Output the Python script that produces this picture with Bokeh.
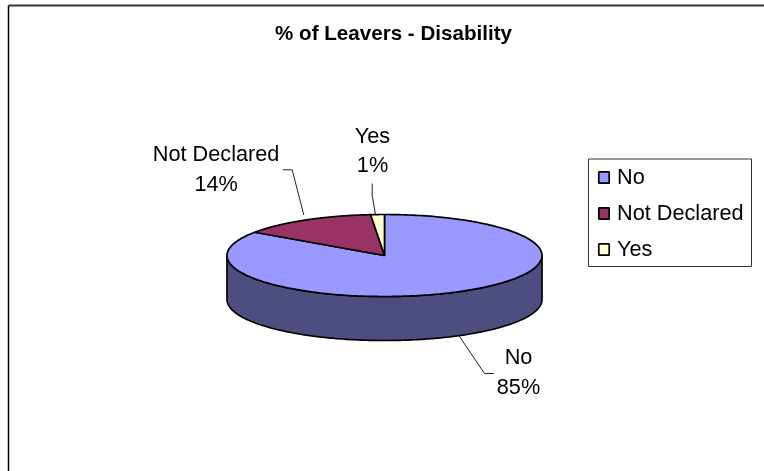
import numpy as np
from bokeh.plotting import figure
from bokeh.models import Legend, LegendItem, Range1d
from bokeh.core.properties import value
from bokeh.embed import file_html
from bokeh.resources import INLINE

categories = ["No", "Not Declared", "Yes"]
shares = [84.6, 14.0, 1.4]
colors = ["#9999FF", "#993366", "#FFFFCC"]
wall_color = "#4D4D80"
title = "% of Leavers - Disability"
FONT = value("Liberation Sans")

W, H = 764, 471
cx, cy, rx, ry, depth = 384.0, 255.0, 157.5, 41.0, 44.0

p = figure(width=W, height=H, output_backend="svg", toolbar_location=None,
           x_range=Range1d(0, W), y_range=Range1d(H, 0), min_border=0,
           x_axis_type=None, y_axis_type=None)
p.grid.visible = False
p.outline_line_color = None
p.background_fill_color = "white"
p.styles = {"position": "fixed", "left": "0px", "top": "0px"}


def rim(a0, a1, n=240):
    a = np.radians(np.linspace(a0, a1, n))
    return cx + rx * np.sin(a), cy - ry * np.cos(a)


# outer frame of the chart area
p.line([8, 8], [5, H], line_color="black", line_width=1.5)
p.line([8, W], [5, 5], line_color="#333333", line_width=2)

# side wall of the disc
wx, wy = rim(90, 270)
p.patch(np.r_[wx, wx[::-1]], np.r_[wy, wy[::-1] + depth],
        fill_color=wall_color, line_color="black", line_width=1.7)

# slices, clockwise from twelve o'clock
renderers = []
start = 0.0
for name, share, col in zip(categories, shares, colors):
    end = start + share * 3.6
    sx, sy = rim(start, end)
    r = p.patch(np.r_[cx, sx], np.r_[cy, sy], fill_color=col,
                line_color="black", line_width=1.7)
    renderers.append(r)
    start = end

# leader lines
leaders = [
    ([458.3, 484, 493.3], [335, 373, 373]),
    ([282.3, 291.7, 303.3], [169.3, 169.3, 214.5]),
    ([371.7, 371.7, 375], [183, 195, 214]),
]
for lx, ly in leaders:
    p.line(lx, ly, line_color="#222222", line_width=1)

# data labels
label_x = [518, 215.6, 372]
label_y1 = [356, 152.5, 134.5]
label_y2 = [385.5, 182.5, 164]
for name, share, x, y1, y2 in zip(categories, shares, label_x, label_y1, label_y2):
    p.text([x], [y1], text=[name], text_align="center", text_baseline="middle",
           text_font=FONT, text_font_size="21.7px", text_color="black")
    p.text([x], [y2], text=[f"{round(share)}%"], text_align="center",
           text_baseline="middle", text_font=FONT, text_font_size="21.7px",
           text_color="black")

# title
p.text([393], [32], text=[title], text_align="center", text_baseline="middle",
       text_font=FONT, text_font_size="20.6px", text_font_style="bold",
       text_color="black")

# legend box
p.quad(left=[588], right=[751], top=[158.5], bottom=[266],
       fill_color="white", line_color="#333333", line_width=1)

legend = Legend(
    items=[LegendItem(label=n, renderers=[r]) for n, r in zip(categories, renderers)],
    location=(597, H - 262), orientation="vertical", margin=0, padding=5,
    spacing=10, glyph_width=13, glyph_height=14, label_standoff=7,
    label_text_font="Liberation Sans", label_text_font_size="21.7px",
    label_text_color="black", border_line_color=None,
    background_fill_alpha=0.0,
)
p.add_layout(legend, "center")

open("out.html", "w").write(file_html(p, INLINE))
